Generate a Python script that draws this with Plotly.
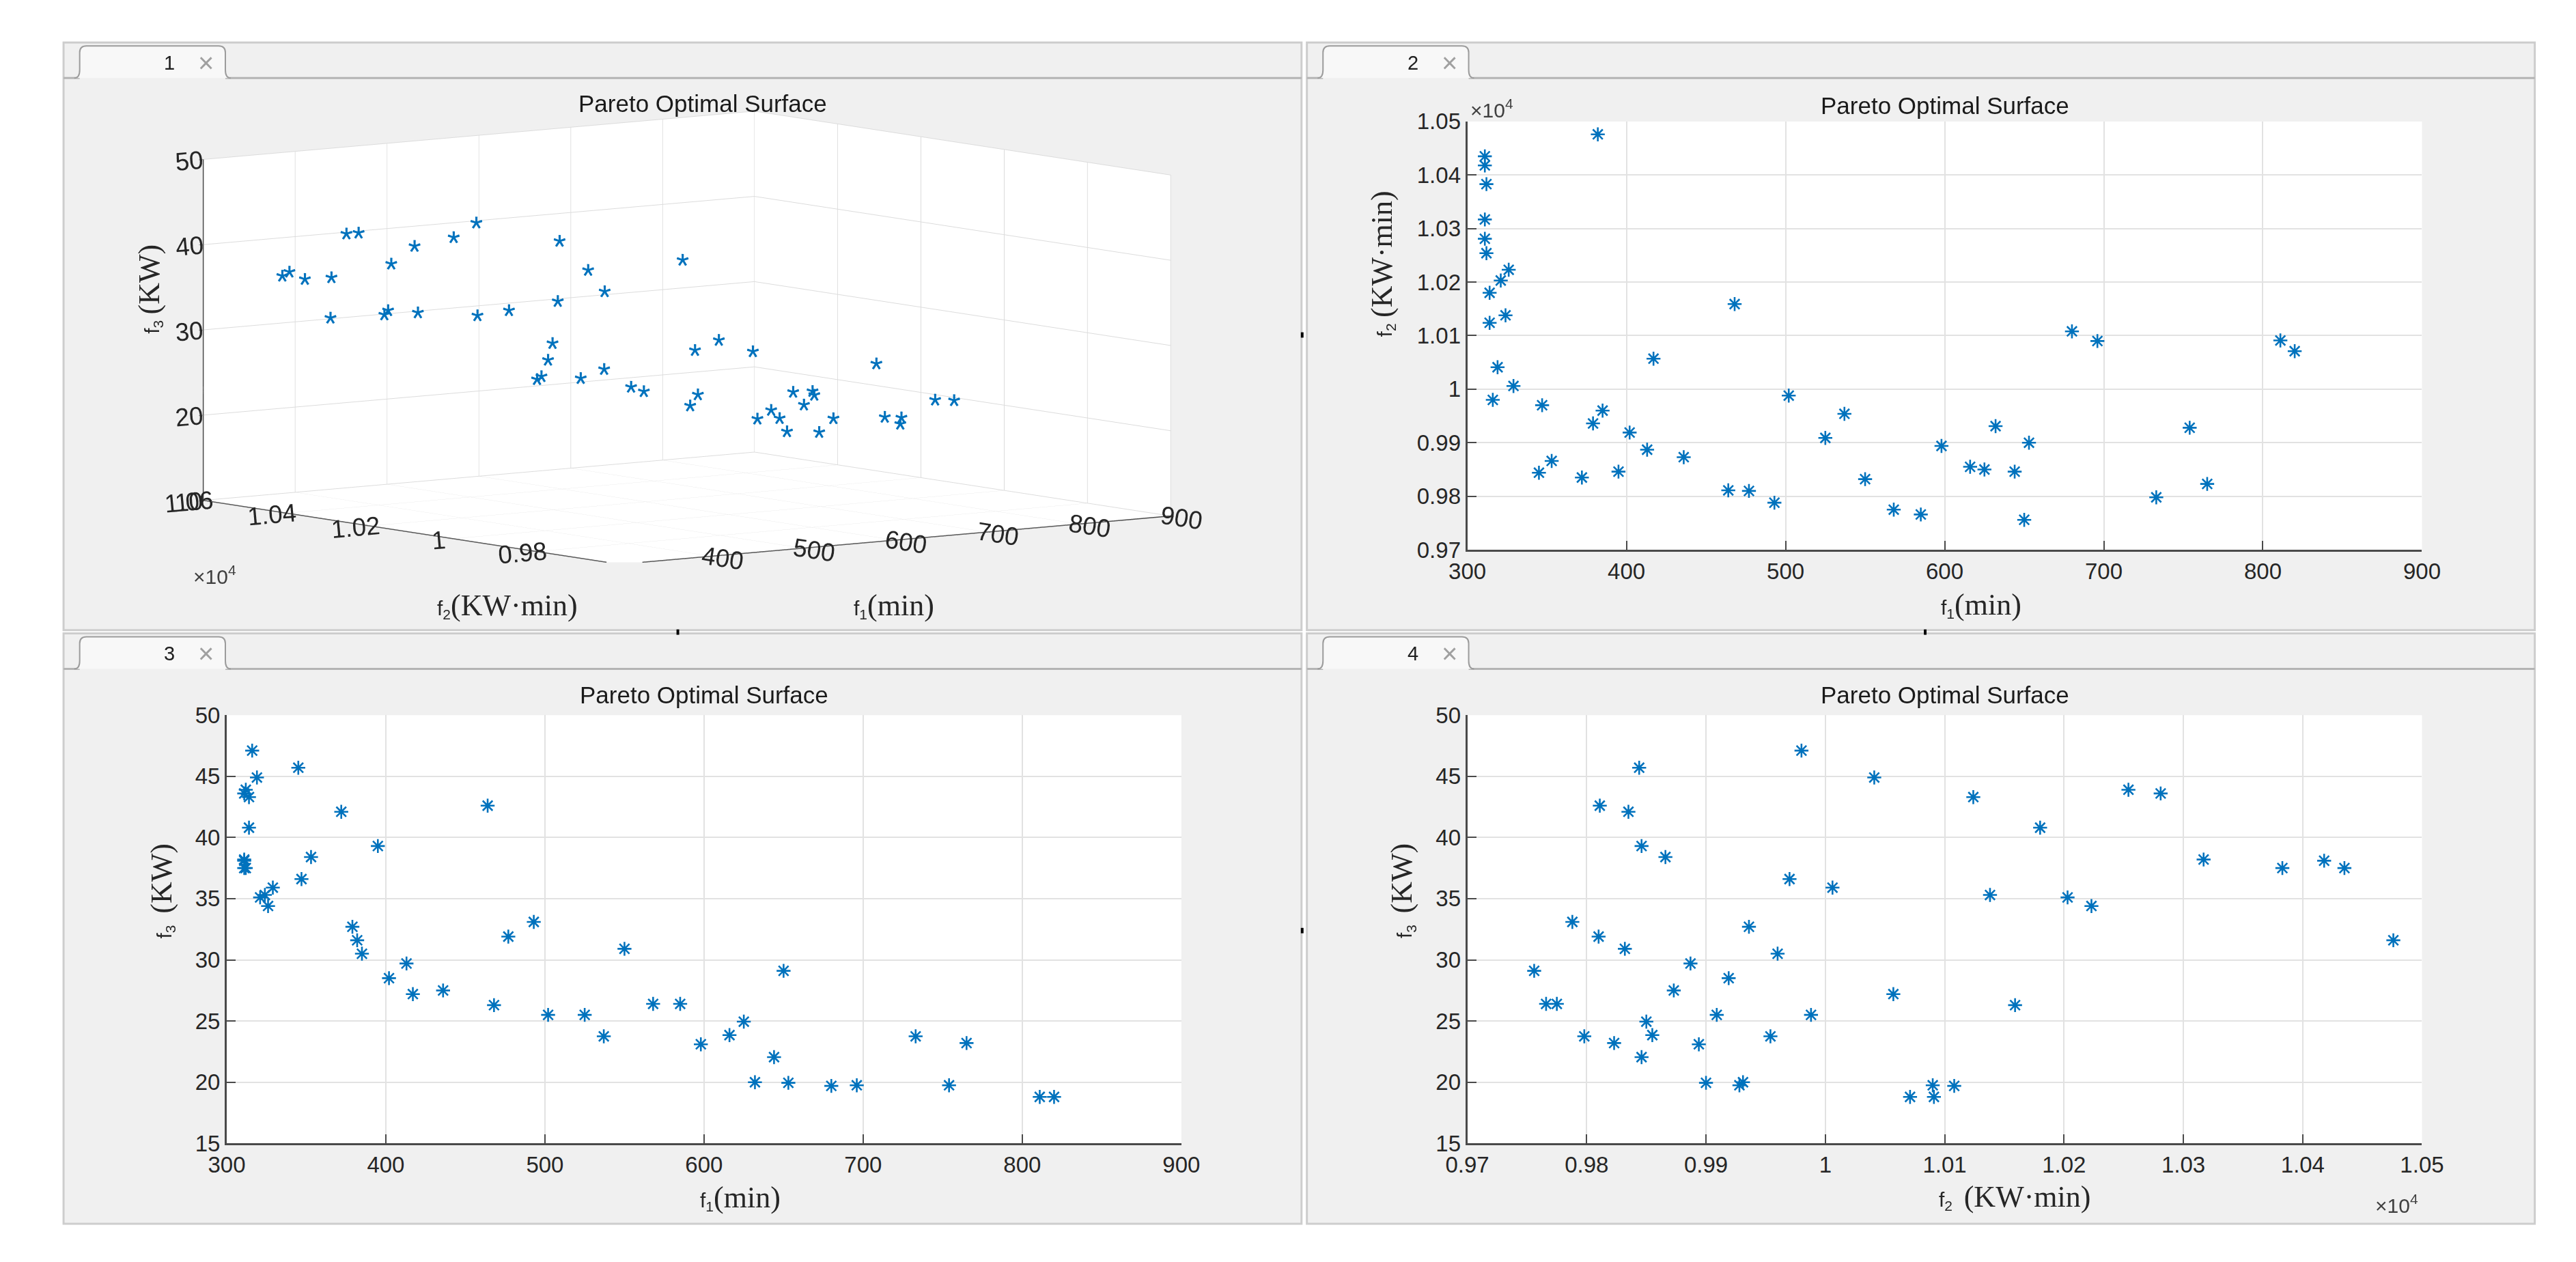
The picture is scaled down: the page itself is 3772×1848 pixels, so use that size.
import plotly.graph_objects as go

W, H = 3772, 1848

# ---------------- data ----------------
f1_min = [311, 311, 312, 311, 311, 312, 326, 321, 314, 324, 314, 319, 329, 316,
          382, 468, 417, 347, 385, 379, 402, 413, 436, 345, 353, 372, 395, 464,
          477, 493, 502, 525, 537, 550, 568, 585, 598, 616, 625, 632, 644, 650,
          653, 680, 696, 733, 754, 765, 811, 820]
f2_kwmin = [10435, 10418, 10383, 10317, 10281, 10254, 10223, 10203, 10180, 10138,
            10124, 10041, 10006, 9980, 10476, 10159, 10057, 9970, 9960, 9936,
            9919, 9887, 9873, 9844, 9866, 9835, 9846, 9811, 9810, 9788,
            9988, 9909, 9954, 9832, 9775, 9766, 9894, 9855, 9850, 9931,
            9846, 9756, 9900, 10108, 10090, 9798, 9928, 9823, 10091, 10071]
f3_kw = [37.5, 38.1, 37.5, 38.2, 43.6, 43.9, 34.4, 35.1, 40.8, 35.3,
         43.3, 44.9, 35.9, 47.1, 31.6, 26.3, 27.2, 36.6, 30.5, 32.7,
         28.5, 29.7, 27.5, 45.7, 38.4, 42.1, 39.3, 42.6, 31.9, 33.1,
         25.5, 25.5, 23.75, 30.9, 26.4, 26.4, 23.1, 23.85, 24.95, 20.0,
         22.05, 29.1, 19.95, 19.7, 19.75, 23.75, 19.75, 23.2, 18.8, 18.8]

f1_ticks = [300, 400, 500, 600, 700, 800, 900]
f2_ticks = [9700, 9800, 9900, 10000, 10100, 10200, 10300, 10400, 10500]
f2_ticktext = ["0.97", "0.98", "0.99", "1", "1.01", "1.02", "1.03", "1.04", "1.05"]
f3_ticks = [15, 20, 25, 30, 35, 40, 45, 50]
f2_ticks3d = [9600, 9800, 10000, 10200, 10400, 10600]
f2_ticktext3d = ["0.96", "0.98", "1", "1.02", "1.04", "1.06"]
f3_ticks3d = [10, 20, 30, 40, 50]
panel_names = ["1", "2", "3", "4"]
title_text = "Pareto Optimal Surface"

# ---------------- helpers ----------------
def fx(px):
    return px / W

def fy(py):
    return 1 - py / H

BLUE = "#0072BD"
AX = "#4a4a4a"
GRID = "#e2e2e2"
TICKC = "#262626"
SANS = "Liberation Sans, Arial, sans-serif"
SERIF = "Liberation Serif"

fig = go.Figure()

# 3D panel
fig.add_trace(go.Scatter3d(
    x=f1_min, y=f2_kwmin, z=f3_kw, mode="text", text=["*"] * len(f1_min),
    textfont=dict(color=BLUE, size=50, family=SANS), textposition="middle center",
    scene="scene", showlegend=False, hoverinfo="skip"))

# 2D panels
mk = dict(symbol="asterisk", size=17, color=BLUE, line=dict(color=BLUE, width=2.6))
fig.add_trace(go.Scatter(x=f1_min, y=f2_kwmin, mode="markers", marker=mk,
                         xaxis="x", yaxis="y", showlegend=False, hoverinfo="skip"))
fig.add_trace(go.Scatter(x=f1_min, y=f3_kw, mode="markers", marker=mk,
                         xaxis="x2", yaxis="y2", showlegend=False, hoverinfo="skip"))
fig.add_trace(go.Scatter(x=f2_kwmin, y=f3_kw, mode="markers", marker=mk,
                         xaxis="x3", yaxis="y3", showlegend=False, hoverinfo="skip"))

def axstyle(domain, rng, tickvals, ticktext=None, anchor=None):
    d = dict(domain=domain, range=rng, autorange=False, tickmode="array",
             tickvals=tickvals, showgrid=True, gridcolor=GRID, gridwidth=2,
             zeroline=False, showline=True, linecolor=AX, linewidth=3,
             ticks="inside", ticklen=13, tickwidth=2, tickcolor=AX,
             tickfont=dict(family=SANS, size=33, color=TICKC), mirror=False,
             anchor=anchor, fixedrange=True)
    if ticktext is not None:
        d["ticktext"] = ticktext
    return d

# panel axes rectangles (pixels)
A2 = (2145, 155, 3567, 795)
A3 = (297, 1042, 1719, 1682)
A4 = (2145, 1042, 3567, 1682)

fig.update_layout(
    xaxis=axstyle([fx(A2[0]), fx(A2[2])], [300, 900], f1_ticks, anchor="y"),
    yaxis=axstyle([fy(A2[3]), fy(A2[1])], [9700, 10500], f2_ticks, f2_ticktext, anchor="x"),
    xaxis2=axstyle([fx(A3[0]), fx(A3[2])], [300, 900], f1_ticks, anchor="y2"),
    yaxis2=axstyle([fy(A3[3]), fy(A3[1])], [15, 50], f3_ticks, anchor="x2"),
    xaxis3=axstyle([fx(A4[0]), fx(A4[2])], [9700, 10500], f2_ticks, f2_ticktext, anchor="y3"),
    yaxis3=axstyle([fy(A4[3]), fy(A4[1])], [15, 50], f3_ticks, anchor="x3"),
)

def ax3d(rng, tickvals, ticktext=None):
    d = dict(range=rng, autorange=False, tickmode="array", tickvals=tickvals,
             showgrid=True, gridcolor="#dcdcdc", gridwidth=2, zeroline=False,
             showline=True, linecolor=AX, linewidth=3, showbackground=True,
             backgroundcolor="white", ticks="outside", ticklen=8, tickcolor=AX,
             tickfont=dict(family=SANS, size=21, color=TICKC), title=dict(text=""),
             showspikes=False)
    if ticktext is not None:
        d["ticktext"] = ticktext
    return d

zoom3d = 2.79
r = 1.8
fig.update_layout(scene=dict(
    domain=dict(x=[fx(95), fx(1871)], y=[fy(848), fy(108)]),
    xaxis=ax3d([300, 900], f1_ticks),
    yaxis=ax3d([9600, 10600], f2_ticks3d, f2_ticktext3d),
    zaxis=ax3d([10, 50], f3_ticks3d),
    aspectmode="manual", aspectratio=dict(x=zoom3d, y=zoom3d, z=0.497 * zoom3d),
    camera=dict(projection=dict(type="orthographic"),
                eye=dict(x=-0.599 * r, y=-0.793 * r, z=0.116 * r),
                up=dict(x=0, y=0, z=1), center=dict(x=0, y=0, z=0)),
    bgcolor="rgba(0,0,0,0)"))

# ---------------- panel chrome ----------------
panels = [(54, 37, 1898, 915), (1906, 37, 3735, 915),
          (54, 920, 1898, 1802), (1906, 920, 3735, 1802)]
shapes = []
annos = []
for i, (x0, y0, x1, y1) in enumerate(panels):
    shapes.append(dict(type="rect", xref="paper", yref="paper", layer="below",
                       x0=fx(x0), x1=fx(x1), y0=fy(y1), y1=fy(y0),
                       fillcolor="#f0f0f0", line=dict(color="#cdcdcd", width=3)))
    bar = y0 + 53
    tx0, tx1 = x0 + 24, x0 + 241
    shapes.append(dict(type="line", xref="paper", yref="paper", layer="below",
                       x0=fx(x0), x1=fx(tx0), y0=fy(bar), y1=fy(bar),
                       line=dict(color="#b4b4b4", width=3)))
    shapes.append(dict(type="line", xref="paper", yref="paper", layer="below",
                       x0=fx(tx1), x1=fx(x1), y0=fy(bar), y1=fy(bar),
                       line=dict(color="#b4b4b4", width=3)))
    rr = 10
    path = (f"M {fx(tx0 - 8)},{fy(bar)} Q {fx(tx0)},{fy(bar)} {fx(tx0)},{fy(bar - 12)} "
            f"L {fx(tx0)},{fy(y0 + 5 + rr)} Q {fx(tx0)},{fy(y0 + 5)} {fx(tx0 + rr)},{fy(y0 + 5)} "
            f"L {fx(tx1 - rr)},{fy(y0 + 5)} Q {fx(tx1)},{fy(y0 + 5)} {fx(tx1)},{fy(y0 + 5 + rr)} "
            f"L {fx(tx1)},{fy(bar - 12)} Q {fx(tx1)},{fy(bar)} {fx(tx1 + 8)},{fy(bar)}")
    shapes.append(dict(type="path", xref="paper", yref="paper", layer="below",
                       path=path, fillcolor="#f8f8f8", line=dict(color="#9c9c9c", width=2)))
    annos.append(dict(x=fx(x0 + 158), y=fy(y0 + 30), xref="paper", yref="paper",
                      text=panel_names[i], showarrow=False, xanchor="center", yanchor="middle",
                      font=dict(family=SANS, size=29, color="#202020")))
    annos.append(dict(x=fx(x0 + 212), y=fy(y0 + 30), xref="paper", yref="paper",
                      text="×", showarrow=False, xanchor="center", yanchor="middle",
                      font=dict(family=SANS, size=40, color="#a0a0a0")))

# white plot areas
for (ax0, ay0, ax1, ay1) in [A2, A3, A4]:
    shapes.append(dict(type="rect", xref="paper", yref="paper", layer="below",
                       x0=fx(ax0), x1=fx(ax1), y0=fy(ay1), y1=fy(ay0),
                       fillcolor="white", line=dict(width=0)))

# tiny black marks between panels
for (cx, cy, w, h) in [(1899, 474, 4, 8), (1899, 1364, 4, 8), (969, 918, 4, 8), (2827, 918, 4, 8)]:
    shapes.append(dict(type="rect", xref="paper", yref="paper", layer="above",
                       x0=fx(cx - w / 2), x1=fx(cx + w / 2), y0=fy(cy + h / 2), y1=fy(cy - h / 2),
                       fillcolor="black", line=dict(width=0)))

def txt(x, y, text, size=34, angle=0, xanchor="center", color="#262626", family=SANS):
    annos.append(dict(x=fx(x), y=fy(y), xref="paper", yref="paper", text=text,
                      showarrow=False, xanchor=xanchor, yanchor="middle", textangle=angle,
                      font=dict(family=family, size=size, color=color)))

# titles
for (cx, cy) in [(1006, 128), (2856, 131), (1008, 1012), (2856, 1012)]:
    txt(cx, cy, title_text, size=35, color="#1a1a1a")

def lab(sub, unit, gap=""):
    return (f"f<sub>{sub}</sub>{gap}<span style='font-family:{SERIF};font-size:44px'>"
            f"{unit}</span>")

# axis labels, panel 2
txt(2910, 877, lab("1", "(min)"), size=30)
txt(2018, 368, lab("2", "(KW·min)", " "), size=30, angle=-90)
txt(2147, 136, "×10<sup>4</sup>", size=30, xanchor="left", color="#404040")
# panel 3
txt(1062, 1763, lab("1", "(min)"), size=30)
txt(200, 1305, lab("3", "(KW)", "  "), size=30, angle=-90)
# panel 4
txt(2960, 1762, lab("2", "(KW·min)", "  "), size=30)
txt(2048, 1305, lab("3", "(KW)", "  "), size=30, angle=-90)
txt(3529, 1772, "×10<sup>4</sup>", size=30, color="#404040")
# panel 1 (3D)
txt(715, 878, lab("2", "(KW·min)"), size=30)
txt(1291, 878, lab("1", "(min)"), size=30)
txt(182, 405, lab("3", "(KW)", " "), size=30, angle=-90)
txt(279, 833, "×10<sup>4</sup>", size=30, color="#404040")

fig.update_layout(width=W, height=H, margin=dict(l=0, r=0, t=0, b=0),
                  paper_bgcolor="white", plot_bgcolor="white",
                  shapes=shapes, annotations=annos, showlegend=False)

fig.write_html("out.html")
